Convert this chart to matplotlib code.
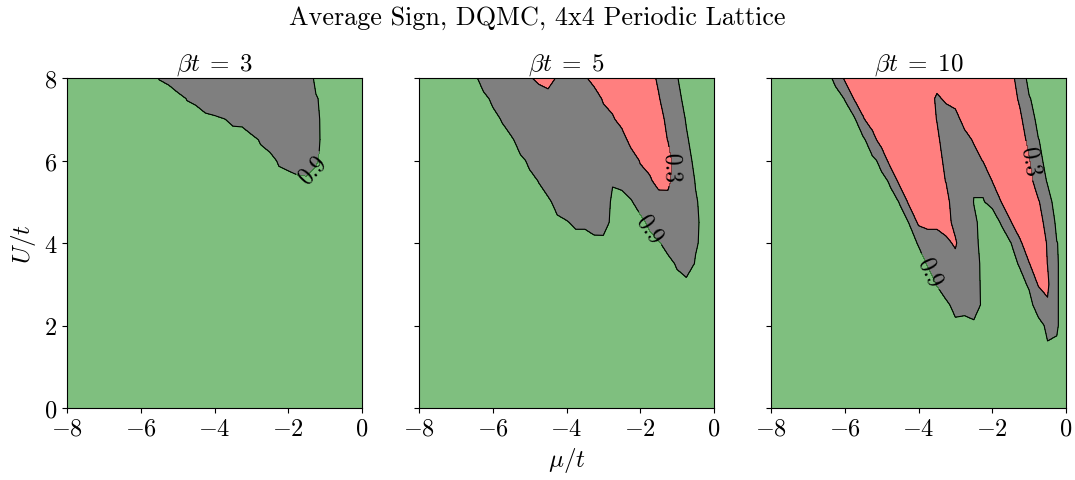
import numpy as np
import matplotlib
matplotlib.use('Agg')
import matplotlib.pyplot as plt

plt.rcParams.update({
    'font.family': 'serif',
    'font.serif': ['cmr10'],
    'mathtext.fontset': 'cm',
    'axes.formatter.use_mathtext': True,
    'font.size': 17.5,
})

# grid of the DQMC runs: mu/t in steps of 0.25, U/t in steps of 0.5
mu = np.linspace(-8, 0, 33)
U = np.linspace(8, 0, 17)   # rows below are listed from U/t = 8 down to 0

# average sign in percent, one row per U/t value
sign_b3 = [
    [100,100,100,100,100,100,100,100,100,100, 89, 85, 67, 60, 60, 60, 60, 60, 60, 60, 60, 60, 60, 60, 60, 60, 64,100,100,100,100,100,100],
    [100,100,100,100,100,100,100,100,100,100,100,100,100, 89, 85, 67, 45, 60, 60, 60, 60, 60, 60, 60, 60, 60, 60, 87,100,100,100,100,100],
    [100,100,100,100,100,100,100,100,100,100,100,100,100,100,100,100,100, 91, 85, 84, 63, 60, 60, 60, 60, 60, 60, 83,100,100,100,100,100],
    [100,100,100,100,100,100,100,100,100,100,100,100,100,100,100,100,100,100,100,100,100, 87, 75, 60, 60, 60, 60, 82,100,100,100,100,100],
    [100,100,100,100,100,100,100,100,100,100,100,100,100,100,100,100,100,100,100,100,100,100,100, 86, 80, 66, 58, 86,100,100,100,100,100],
    [100,100,100,100,100,100,100,100,100,100,100,100,100,100,100,100,100,100,100,100,100,100,100,100,100,100,100,100,100,100,100,100,100],
    [100,100,100,100,100,100,100,100,100,100,100,100,100,100,100,100,100,100,100,100,100,100,100,100,100,100,100,100,100,100,100,100,100],
    [100,100,100,100,100,100,100,100,100,100,100,100,100,100,100,100,100,100,100,100,100,100,100,100,100,100,100,100,100,100,100,100,100],
    [100,100,100,100,100,100,100,100,100,100,100,100,100,100,100,100,100,100,100,100,100,100,100,100,100,100,100,100,100,100,100,100,100],
    [100,100,100,100,100,100,100,100,100,100,100,100,100,100,100,100,100,100,100,100,100,100,100,100,100,100,100,100,100,100,100,100,100],
    [100,100,100,100,100,100,100,100,100,100,100,100,100,100,100,100,100,100,100,100,100,100,100,100,100,100,100,100,100,100,100,100,100],
    [100,100,100,100,100,100,100,100,100,100,100,100,100,100,100,100,100,100,100,100,100,100,100,100,100,100,100,100,100,100,100,100,100],
    [100,100,100,100,100,100,100,100,100,100,100,100,100,100,100,100,100,100,100,100,100,100,100,100,100,100,100,100,100,100,100,100,100],
    [100,100,100,100,100,100,100,100,100,100,100,100,100,100,100,100,100,100,100,100,100,100,100,100,100,100,100,100,100,100,100,100,100],
    [100,100,100,100,100,100,100,100,100,100,100,100,100,100,100,100,100,100,100,100,100,100,100,100,100,100,100,100,100,100,100,100,100],
    [100,100,100,100,100,100,100,100,100,100,100,100,100,100,100,100,100,100,100,100,100,100,100,100,100,100,100,100,100,100,100,100,100],
    [100,100,100,100,100,100,100,100,100,100,100,100,100,100,100,100,100,100,100,100,100,100,100,100,100,100,100,100,100,100,100,100,100],
]

sign_b5 = [
    [100,100,100,100,100,100,100, 70, 60, 60, 60, 60, 40,  4, 10, 35, 60, 60, 40,  0,  0,  0,  0,  0,  0,  0, 44, 65, 89,100,100,100,100],
    [100,100,100,100,100,100,100,100, 83, 60, 60, 60, 60, 88, 48, 60, 60, 60, 60, 70, 20,  0,  0,  0,  0,  0, 24, 75, 81,100,100,100,100],
    [100,100,100,100,100,100,100,100,100, 88, 50, 60, 60, 60, 60, 60, 60, 60, 60, 60, 60, 40,  0,  0,  0,  0,  0, 50, 75, 92,100,100,100],
    [100,100,100,100,100,100,100,100,100,100,100, 65, 60, 60, 60, 60, 60, 60, 60, 60, 60, 60, 68,  0,  0,  0,  0, 32, 60, 87,100,100,100],
    [100,100,100,100,100,100,100,100,100,100,100,100, 82, 60, 60, 60, 60, 60, 60, 60, 60, 60, 60, 75, 24,  0,  0,  0, 75, 75,100,100,100],
    [100,100,100,100,100,100,100,100,100,100,100,100,100, 89, 60, 60, 60, 60, 60, 60, 60, 86, 82, 68, 60, 44,  0, 10, 75, 67, 92,100,100],
    [100,100,100,100,100,100,100,100,100,100,100,100,100,100,100, 72, 72, 60, 60, 60, 58,100,100, 93, 74, 60, 70, 55, 60, 60, 87,100,100],
    [100,100,100,100,100,100,100,100,100,100,100,100,100,100,100,100, 92, 85, 85, 74, 73,100,100,100,100, 83, 60, 60, 60, 60, 84,100,100],
    [100,100,100,100,100,100,100,100,100,100,100,100,100,100,100,100,100,100,100,100,100,100,100,100,100,100, 93, 77, 60, 60, 86,100,100],
    [100,100,100,100,100,100,100,100,100,100,100,100,100,100,100,100,100,100,100,100,100,100,100,100,100,100,100,100, 86, 70, 93,100,100],
    [100,100,100,100,100,100,100,100,100,100,100,100,100,100,100,100,100,100,100,100,100,100,100,100,100,100,100,100,100,100,100,100,100],
    [100,100,100,100,100,100,100,100,100,100,100,100,100,100,100,100,100,100,100,100,100,100,100,100,100,100,100,100,100,100,100,100,100],
    [100,100,100,100,100,100,100,100,100,100,100,100,100,100,100,100,100,100,100,100,100,100,100,100,100,100,100,100,100,100,100,100,100],
    [100,100,100,100,100,100,100,100,100,100,100,100,100,100,100,100,100,100,100,100,100,100,100,100,100,100,100,100,100,100,100,100,100],
    [100,100,100,100,100,100,100,100,100,100,100,100,100,100,100,100,100,100,100,100,100,100,100,100,100,100,100,100,100,100,100,100,100],
    [100,100,100,100,100,100,100,100,100,100,100,100,100,100,100,100,100,100,100,100,100,100,100,100,100,100,100,100,100,100,100,100,100],
    [100,100,100,100,100,100,100,100,100,100,100,100,100,100,100,100,100,100,100,100,100,100,100,100,100,100,100,100,100,100,100,100,100],
]

sign_b10 = [
    [100,100,100,100,100,100,100, 83, 20,  0,  0,  0,  0,  0,  0,  0,  0,  0,  0,  0,  0,  0,  0,  0,  0,  0,  4, 69,100,100,100,100,100],
    [100,100,100,100,100,100,100,100, 89, 28,  0,  0,  0,  0,  0,  0,  0,  0, 40, 20,  0,  0,  0,  0,  0,  0,  0, 40, 88,100,100,100,100],
    [100,100,100,100,100,100,100,100,100,100, 35,  0,  0,  0,  0,  0,  0,  0, 32, 60, 60,  0,  0,  0,  0,  0,  0, 17, 72,100,100,100,100],
    [100,100,100,100,100,100,100,100,100,100,100, 55,  0,  0,  0,  0,  0,  0, 18, 60, 60, 60, 22,  0,  0,  0,  0,  0, 47, 89,100,100,100],
    [100,100,100,100,100,100,100,100,100,100,100,100, 78,  0,  0,  0,  0,  0,  0, 50, 60, 60, 60, 27,  0,  0,  0,  0, 26, 81,100,100,100],
    [100,100,100,100,100,100,100,100,100,100,100,100,100, 85,  9,  0,  0,  0,  0, 33, 60, 60, 86, 86, 29,  0,  0,  0,  0, 75, 92,100,100],
    [100,100,100,100,100,100,100,100,100,100,100,100,100,100, 88, 15,  0,  0,  0,  5, 75, 60, 91, 91, 85, 28,  0,  0,  0, 23, 81,100,100],
    [100,100,100,100,100,100,100,100,100,100,100,100,100,100,100, 89, 19,  0,  0,  0, 55, 60, 84,100,100, 88, 33,  0,  0,  8, 50,100,100],
    [100,100,100,100,100,100,100,100,100,100,100,100,100,100,100,100, 88, 89, 89, 45, 20, 89, 81,100,100,100, 92, 38,  0,  8, 33, 89,100],
    [100,100,100,100,100,100,100,100,100,100,100,100,100,100,100,100,100, 88, 60, 60, 56, 60, 72,100,100,100,100, 87, 32,  0, 31, 88,100],
    [100,100,100,100,100,100,100,100,100,100,100,100,100,100,100,100,100,100, 89, 60, 60, 60, 69,100,100,100,100,100, 86, 25, 20, 88,100],
    [100,100,100,100,100,100,100,100,100,100,100,100,100,100,100,100,100,100,100,100, 75, 79, 64,100,100,100,100,100,100, 75, 36, 88,100],
    [100,100,100,100,100,100,100,100,100,100,100,100,100,100,100,100,100,100,100,100,100,100,100,100,100,100,100,100,100,100, 84, 88,100],
    [100,100,100,100,100,100,100,100,100,100,100,100,100,100,100,100,100,100,100,100,100,100,100,100,100,100,100,100,100,100, 92, 92,100],
    [100,100,100,100,100,100,100,100,100,100,100,100,100,100,100,100,100,100,100,100,100,100,100,100,100,100,100,100,100,100,100,100,100],
    [100,100,100,100,100,100,100,100,100,100,100,100,100,100,100,100,100,100,100,100,100,100,100,100,100,100,100,100,100,100,100,100,100],
    [100,100,100,100,100,100,100,100,100,100,100,100,100,100,100,100,100,100,100,100,100,100,100,100,100,100,100,100,100,100,100,100,100],
]

betas = [3, 5, 10]
signs = [sign_b3, sign_b5, sign_b10]

# where the contour labels sit (mu/t, U/t)
label_pos = [
    [(-1.35, 5.8)],
    [(-1.12, 5.85), (-1.76, 4.34)],
    [(-0.95, 6.0), (-3.7, 3.3)],
]

fig = plt.figure(figsize=(10.75, 4.81), dpi=100)
lefts = [67, 419, 771]

for i in range(3):
    ax = fig.add_axes([lefts[i] / 1075, 72 / 481, 295 / 1075, 330 / 481])
    s = np.array(signs[i], dtype=float) / 100

    ax.contourf(mu, U, s, levels=[0, 0.3, 0.9, 1.0],
                colors=['r', 'k', 'g'], alpha=0.5)
    lev = [0.3, 0.9] if s.min() < 0.3 else [0.9]
    cs = ax.contour(mu, U, s, levels=lev, colors='k', linewidths=0.8)
    ax.clabel(cs, fmt='%.1f', manual=label_pos[i], inline=True, fontsize=17)

    ax.set_xlim(-8, 0)
    ax.set_ylim(0, 8)
    ax.set_xticks([-8, -6, -4, -2, 0])
    ax.set_yticks([0, 2, 4, 6, 8])
    ax.set_title(r'$\beta t\;=\;%d$' % betas[i], fontsize=18)
    if i == 0:
        ax.set_ylabel(r'$U/t$', fontsize=18)
    else:
        ax.set_yticklabels([])
    if i == 1:
        ax.set_xlabel(r'$\mu/t$', fontsize=18)

fig.suptitle('Average Sign, DQMC, 4x4 Periodic Lattice', y=0.987, fontsize=18.8)
fig.savefig('out.png', dpi=100)
